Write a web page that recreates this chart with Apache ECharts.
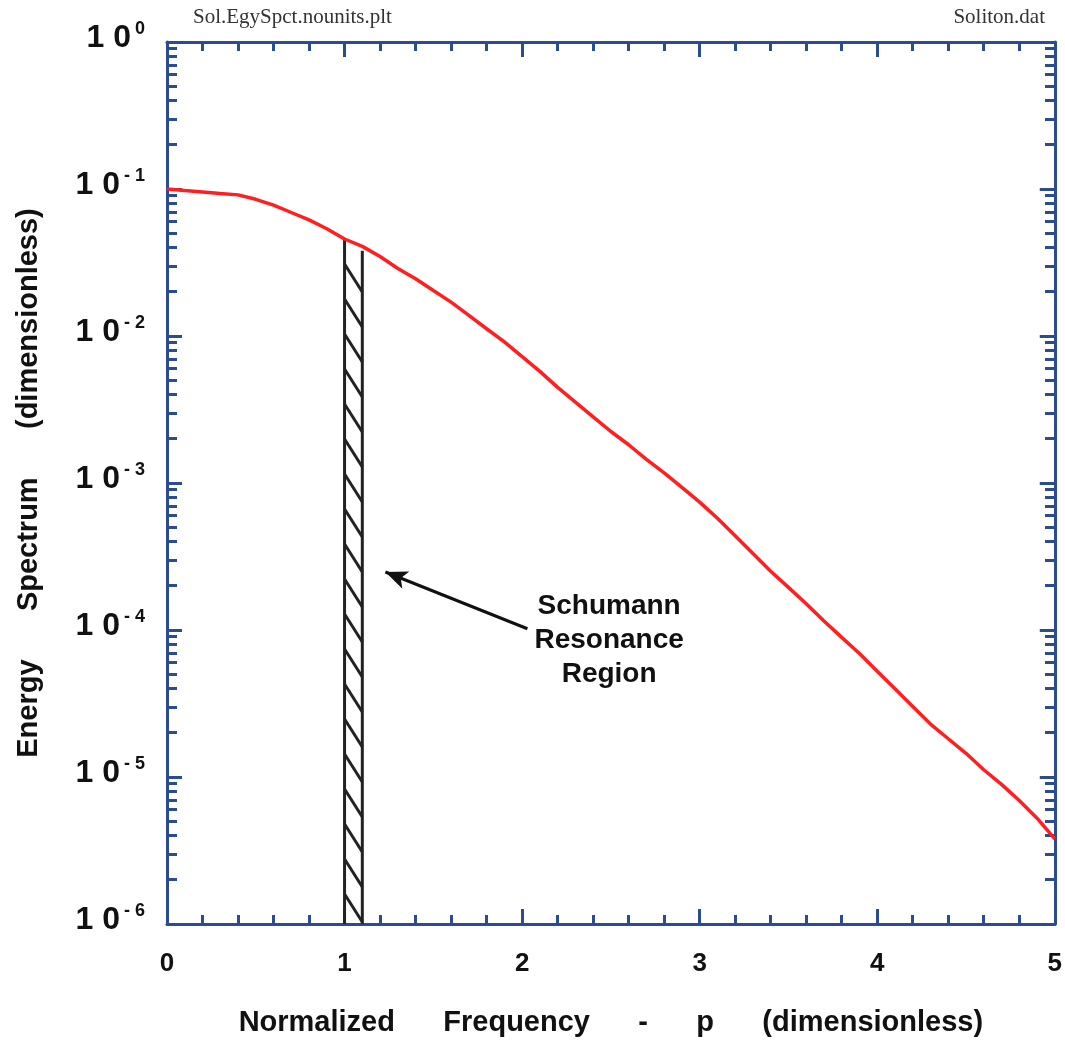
<!DOCTYPE html>
<html>
<head>
<meta charset="utf-8">
<script src="https://cdn.jsdelivr.net/npm/echarts@6/dist/echarts.min.js"></script>
<style>
html,body{margin:0;padding:0;background:#fff;}
#chart{width:1065px;height:1042px;}
</style>
</head>
<body>
<div id="chart"></div>
<script>
// ---- data ----
const freq = [0.0,0.1,0.2,0.3,0.4,0.5,0.6,0.7,0.8,0.9,
              1.0,1.1,1.2,1.3,1.4,1.5,1.6,1.7,1.8,1.9,
              2.0,2.1,2.2,2.3,2.4,2.5,2.6,2.7,2.8,2.9,
              3.0,3.1,3.2,3.3,3.4,3.5,3.6,3.7,3.8,3.9,
              4.0,4.1,4.2,4.3,4.4,4.5,4.6,4.7,4.8,4.9,5.0];
const energy = [1.00e-1,9.77e-2,9.55e-2,9.33e-2,9.12e-2,8.51e-2,7.76e-2,6.92e-2,6.17e-2,5.37e-2,
                4.57e-2,4.07e-2,3.47e-2,2.88e-2,2.45e-2,2.04e-2,1.70e-2,1.38e-2,1.12e-2,9.12e-3,
                7.24e-3,5.75e-3,4.47e-3,3.55e-3,2.82e-3,2.24e-3,1.82e-3,1.45e-3,1.17e-3,9.33e-4,
                7.41e-4,5.75e-4,4.37e-4,3.31e-4,2.51e-4,1.95e-4,1.51e-4,1.15e-4,8.91e-5,6.92e-5,
                5.25e-5,3.98e-5,3.02e-5,2.29e-5,1.82e-5,1.45e-5,1.12e-5,8.91e-6,6.92e-6,5.25e-6,3.80e-6];
const xTicks = [0,1,2,3,4,5];
const yDecades = [1e-6,1e-5,1e-4,1e-3,1e-2,1e-1,1];
const yMinorMultipliers = [2,3,4,5,6,7,8,9];
// Schumann resonance band: [x start, top value, x end, top value]
const schumannBand = [1.0, 0.046, 1.1, 0.038];
const arrowFrom = [2.03, 1.02e-4];
const arrowTo = [1.23, 2.48e-4];
const notePos = [2.49, 8.5e-5];
const noteText = 'Schumann\nResonance\nRegion';
const xTitle = 'Normalized      Frequency      -      p      (dimensionless)';
const yTitle = 'Energy      Spectrum      (dimensionless)';
const fileLeft = 'Sol.EgySpct.nounits.plt';
const fileRight = 'Soliton.dat';

const yMinorTicks = [];
yDecades.slice(0, -1).forEach(d => yMinorMultipliers.forEach(m => yMinorTicks.push(m * d)));

const AX = '#2b4d90';
const SANS = '"Liberation Sans", Arial, Helvetica, sans-serif';
const yMin = yDecades[0], yMax = yDecades[yDecades.length - 1];
const GRID = {left: 167, right: 10, top: 42, bottom: 118, containLabel: false};

const chart = echarts.init(document.getElementById('chart'), null, {renderer: 'canvas'});

function xAxisCfg(pos, showLabel) {
  return {
    type: 'value', gridIndex: 0, position: pos, min: xTicks[0], max: xTicks[xTicks.length - 1], interval: 1,
    axisLine: {show: true, onZero: false, lineStyle: {color: AX, width: 3}},
    axisTick: {show: true, inside: true, length: 15, lineStyle: {color: AX, width: 3}},
    minorTick: {show: true, splitNumber: 5, length: 9, lineStyle: {color: AX, width: 3}},
    splitLine: {show: false}, minorSplitLine: {show: false},
    axisLabel: {show: showLabel, fontSize: 26, fontWeight: 'bold', color: '#111', fontFamily: SANS, margin: 27},
    name: showLabel ? xTitle : '', nameLocation: 'middle', nameGap: 84,
    nameTextStyle: {fontSize: 29, fontWeight: 'bold', color: '#111', fontFamily: SANS}
  };
}
function yAxisCfg(pos, showLabel) {
  return {
    type: 'log', logBase: 10, gridIndex: 0, position: pos, min: yMin, max: yMax, splitNumber: 6,
    axisLine: {show: true, onZero: false, lineStyle: {color: AX, width: 3}},
    axisTick: {show: true, inside: true, length: 15, lineStyle: {color: AX, width: 3}},
    splitLine: {show: false},
    axisLabel: {
      show: showLabel, margin: 22, color: '#111', padding: [0, 0, 10, 0],
      formatter: v => {
        const e = Math.round(Math.log10(v));
        return '{b|1 0}{s|' + (e < 0 ? '- ' + (-e) : String(e)) + '}';
      },
      rich: {
        b: {fontSize: 32, fontWeight: 'bold', fontFamily: SANS, color: '#111', lineHeight: 34, verticalAlign: 'bottom'},
        s: {fontSize: 18, fontWeight: 'bold', fontFamily: SANS, color: '#111', lineHeight: 34, verticalAlign: 'top', padding: [0, 0, 0, 4]}
      }
    },
    name: showLabel ? yTitle : '', nameLocation: 'middle', nameGap: 124, nameRotate: 90,
    nameTextStyle: {fontSize: 29, fontWeight: 'bold', color: '#111', fontFamily: SANS}
  };
}
function yMinorCfg(pos) {
  return {
    type: 'log', logBase: 10, gridIndex: 1, position: pos, min: yMin, max: yMax,
    axisLine: {show: false},
    axisTick: {show: true, inside: true, length: 10, customValues: yMinorTicks, lineStyle: {color: AX, width: 3}},
    axisLabel: {show: false}, splitLine: {show: false}
  };
}

const option = {
  backgroundColor: '#fff',
  animation: false,
  grid: [Object.assign({}, GRID), Object.assign({}, GRID)],
  graphic: [
    {type: 'text', left: 193, top: 7, style: {text: fileLeft, font: '21px "Liberation Serif", "Times New Roman", serif', fill: '#333'}},
    {type: 'text', right: 20, top: 7, style: {text: fileRight, font: '21px "Liberation Serif", "Times New Roman", serif', fill: '#333'}}
  ],
  xAxis: [
    xAxisCfg('bottom', true),
    xAxisCfg('top', false),
    {type: 'value', gridIndex: 1, show: false, min: xTicks[0], max: xTicks[xTicks.length - 1]}
  ],
  yAxis: [yAxisCfg('left', true), yAxisCfg('right', false), yMinorCfg('left'), yMinorCfg('right')],
  series: [
    {
      type: 'custom', xAxisIndex: 0, yAxisIndex: 0, silent: true, z: 3,
      data: [schumannBand],
      encode: {x: [0, 2], y: [1, 3]},
      renderItem: (params, api) => {
        const x0 = api.value(0), t0 = api.value(1), x1 = api.value(2), t1 = api.value(3);
        const pLB = api.coord([x0, yMin]), pLT = api.coord([x0, t0]);
        const pRB = api.coord([x1, yMin]), pRT = api.coord([x1, t1]);
        const st = {stroke: '#222', lineWidth: 3, fill: null};
        const children = [
          {type: 'line', shape: {x1: pLB[0], y1: pLB[1], x2: pLT[0], y2: pLT[1]}, style: st},
          {type: 'line', shape: {x1: pRB[0], y1: pRB[1], x2: pRT[0], y2: pRT[1]}, style: st}
        ];
        const step = 35, drop = 28;
        for (let i = 0; ; i++) {
          const yEnd = pLB[1] - 2 - i * step;
          const yStart = yEnd - drop;
          if (yStart < pLT[1] + 20) break;
          children.push({type: 'line', shape: {x1: pLB[0], y1: yStart, x2: pRB[0], y2: yEnd}, style: st});
        }
        return {type: 'group', children};
      }
    },
    {
      type: 'line', xAxisIndex: 0, yAxisIndex: 0, z: 4,
      data: freq.map((f, i) => [f, energy[i]]),
      showSymbol: false, symbol: 'none',
      lineStyle: {color: '#ff1f1f', width: 3.5},
      markLine: {
        silent: true, symbol: ['none', 'arrow'], symbolSize: [14, 22],
        lineStyle: {color: '#111', width: 3, type: 'solid'},
        label: {show: false},
        data: [[{coord: arrowFrom}, {coord: arrowTo}]]
      }
    },
    {
      type: 'scatter', xAxisIndex: 0, yAxisIndex: 0, symbolSize: 0, silent: true,
      itemStyle: {opacity: 1},
      data: [notePos],
      label: {show: true, position: 'inside', formatter: noteText, fontSize: 28, fontWeight: 'bold',
              fontFamily: SANS, color: '#111', opacity: 1, lineHeight: 34, align: 'center'}
    }
  ]
};
chart.setOption(option);
</script>
</body>
</html>
